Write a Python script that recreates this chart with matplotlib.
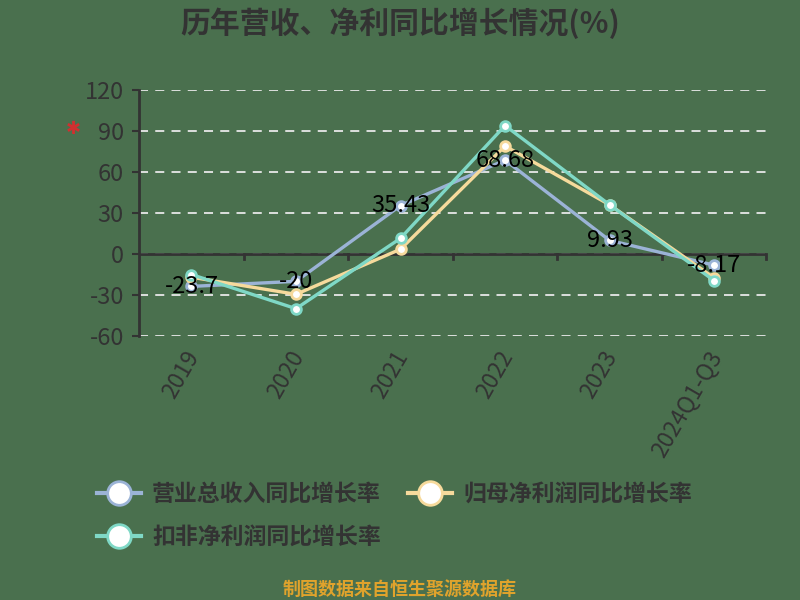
import matplotlib
matplotlib.use('Agg')
import matplotlib.pyplot as plt
from matplotlib.lines import Line2D

plt.rcParams['font.family'] = ['Noto Sans CJK SC', 'DejaVu Sans']
plt.rcParams['axes.unicode_minus'] = False

# data
categories = ['2019', '2020', '2021', '2022', '2023', '2024Q1-Q3']
revenue = [-23.7, -20, 35.43, 68.68, 9.93, -8.17]
net_profit = [-17, -29.5, 3.5, 79, 36, -17.5]
net_profit_deducted = [-15, -40, 11.5, 94, 36, -19.5]
series_names = ['营业总收入同比增长率', '归母净利润同比增长率', '扣非净利润同比增长率']
yticks = [-60, -30, 0, 30, 60, 90, 120]

bg = '#4a704e'
txt = '#333333'
colors = ['#9bb3d6', '#f6da9c', '#7fd8c6']

fig = plt.figure(figsize=(8, 6), dpi=100, facecolor=bg)
ax = fig.add_axes([0.174, 0.44, 0.784, 0.41], facecolor=bg)

x = list(range(len(categories)))
for vals, c in zip([revenue, net_profit, net_profit_deducted], colors):
    ax.plot(x, vals, color=c, linewidth=2.4, marker='o', markersize=7,
            markerfacecolor='white', markeredgecolor=c, markeredgewidth=2, zorder=3)

# labels for revenue
for xi, v in zip(x, revenue):
    ax.text(xi, v, f'{v:g}', ha='center', va='center', fontsize=17,
            color='black', zorder=5)

ax.set_ylim(-60, 120)
ax.set_xlim(-0.5, len(categories) - 0.5)
ax.set_yticks(yticks)
ax.tick_params(axis='y', labelsize=17, colors=txt, length=5, width=1.5, pad=6)
for t in ax.get_yticklabels():
    t.set_fontweight('medium')
ax.grid(axis='y', color='#e8e8e8', linestyle=(0, (5, 4)), linewidth=1.3)
ax.set_axisbelow(True)

for s in ['top', 'right', 'bottom']:
    ax.spines[s].set_visible(False)
ax.spines['left'].set_color(txt)
ax.spines['left'].set_linewidth(2)

# x axis line at zero with category boundary ticks
ax.axhline(0, color=txt, linewidth=2, zorder=2)
for b in range(1, len(categories) + 1):
    ax.plot([b - 0.5, b - 0.5], [0, -4], color=txt, linewidth=2, zorder=2, clip_on=False)

ax.set_xticks(x)
ax.set_xticklabels([])
ax.tick_params(axis='x', length=0)
for xi, lab in zip(x, categories):
    ax.annotate(lab, xy=(xi, -60), xytext=(2, -12), textcoords='offset points',
                rotation=60, ha='right', va='center', rotation_mode='anchor',
                fontsize=16.5, color=txt, annotation_clip=False)

# red mark near the axis
fig.text(0.092, 0.785, '✱', color='#d03030', fontsize=13, ha='center', va='center',
         family='DejaVu Sans')

fig.text(0.5, 0.962, '历年营收、净利同比增长情况(%)', ha='center', va='center',
         fontsize=21.5, fontweight='bold', color=txt)

handles = [Line2D([0], [0], color=c, linewidth=3, marker='o', markersize=17,
                  markerfacecolor='white', markeredgecolor=c, markeredgewidth=2)
           for c in colors]
order = [0, 2, 1]
fig.legend([handles[i] for i in order], [series_names[i] for i in order],
           ncol=2, loc='upper left',
           bbox_to_anchor=(0.11, 0.21), frameon=False,
           prop={'size': 16.5, 'weight': 'bold'},
           labelcolor=txt, handlelength=1.9, columnspacing=1.2,
           handletextpad=0.5, labelspacing=0.85, borderaxespad=0)

fig.text(0.5, 0.017, '制图数据来自恒生聚源数据库', ha='center', va='center',
         fontsize=13, color='#e0a32c', fontweight='bold')

fig.savefig('out.png', dpi=100, facecolor=bg)
